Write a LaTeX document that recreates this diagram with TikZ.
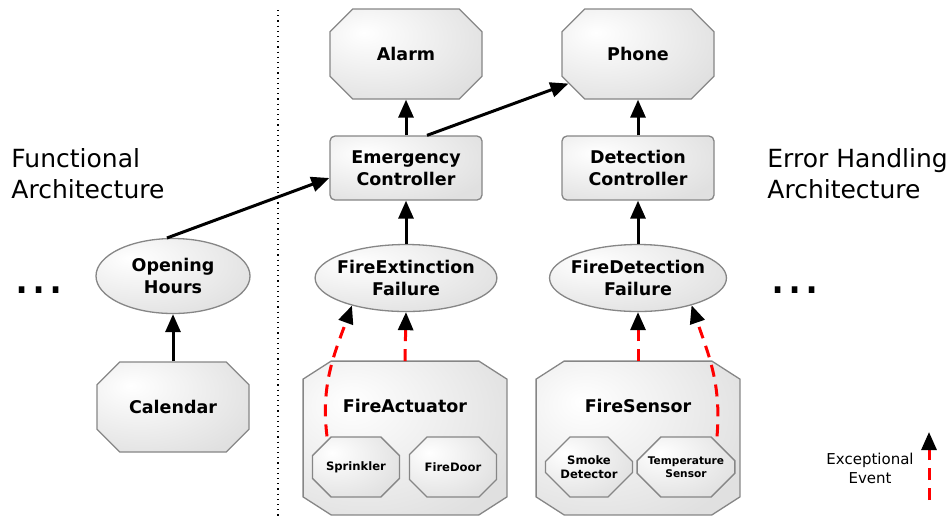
\documentclass[tikz,border=0pt]{standalone}
\usepackage{fontspec}
\setmainfont{DejaVu Sans}
\usetikzlibrary{arrows.meta,calc,shapes.misc,shapes.geometric}
\pgfdeclareradialshading{nodeglow}{\pgfpoint{-14bp}{12bp}}{%
  color(0bp)=(white); color(38bp)=(gray!24); color(100bp)=(gray!30)}
\tikzset{
  boxline/.style = {
    draw=gray!95, line width=0.65pt, shading=nodeglow
  },
  box/.style = {
    boxline, align=center, inner sep=0pt,
    font=\bfseries\fontsize{8.75}{11}\selectfont
  },
  octa/.style = {
    box, chamfered rectangle,
    chamfered rectangle xsep=7.5pt, chamfered rectangle ysep=8pt,
    minimum width=76pt, minimum height=45pt
  },
  small/.style = {
    octa, chamfered rectangle xsep=6.5pt, chamfered rectangle ysep=6.5pt,
    minimum width=43.5pt, minimum height=30pt,
    font=\bfseries\fontsize{5.8}{7}\selectfont
  },
  bigarea/.style = {rectangle, inner sep=0pt, minimum width=101.5pt, minimum height=76.5pt},
  ctrl/.style = {box, rectangle, rounded corners=2.5pt, minimum width=76pt, minimum height=32pt},
  fail/.style = {box, ellipse, inner xsep=-2.3pt, minimum width=77pt, minimum height=33.5pt},
  lbl/.style = {inner sep=0pt, font=\bfseries\fontsize{8.75}{11}\selectfont},
  heading/.style = {inner sep=0pt, align=left, font=\fontsize{12.5}{15.75}\selectfont},
  more/.style = {inner sep=0pt, font=\fontsize{27}{30}\selectfont},
  legend/.style = {inner sep=0pt, align=center, font=\fontsize{7.5}{9.5}\selectfont},
  flow/.style = {-{Triangle[length=9pt,width=7.5pt]}, line width=1.5pt},
  exc/.style = {flow, red, dash pattern=on 6pt off 4pt,
    -{Triangle[length=9pt,width=7.5pt,color=black]}}
}
% octagon round a named area: node, x cut, y cut
\newcommand{\bigoct}[3]{%
  \path[boxline] ([xshift=#2]#1.north west) -- ([xshift=-#2]#1.north east)
    -- ([yshift=-#3]#1.north east) -- ([yshift=#3]#1.south east)
    -- ([xshift=-#2]#1.south east) -- ([xshift=#2]#1.south west)
    -- ([yshift=#3]#1.south west) -- ([yshift=-#3]#1.north west) -- cycle;
}

\begin{document}
\begin{tikzpicture}[x=0.5pt,y=-0.5pt]
  \pgfmathsetmacro{\colA}{173};
  \pgfmathsetmacro{\colB}{406};
  \pgfmathsetmacro{\colC}{638};
  \useasboundingbox (0,0) rectangle (952,516);
  % separator
  \draw[dotted, line width=0.6pt] (278,10) -- (278,516);
  % headings
  \node[heading, anchor=north west] (func) at (11,148) {Functional\\Architecture};
  \node[heading, anchor=north west] (err) at (767,148) {Error Handling\\Architecture};
  \node[more] (moreL) at (39,290) {...};
  \node[more] (moreR) at (795,290) {...};
  % outputs
  \node[octa] (alarm) at (\colB,54) {Alarm};
  \node[octa] (phone) at (\colC,54) {Phone};
  % controllers
  \node[ctrl] (emc) at (\colB,168) {Emergency\\Controller};
  \node[ctrl] (dec) at (\colC,168) {Detection\\Controller};
  % failures
  \node[fail, minimum height=37.5pt] (oh) at (\colA,276) {Opening\\Hours};
  \node[fail] (fex) at (\colB,278) {FireExtinction\\Failure};
  \node[fail] (fdet) at (\colC,278) {FireDetection\\Failure};
  % components
  \node[octa] (cal) at (\colA,407) {Calendar};
  \node[bigarea] (fact) at (405,438) {};
  \node[bigarea] (fsen) at (\colC,438) {};
  \bigoct{fact}{14pt}{9pt}
  \bigoct{fsen}{14pt}{9pt}
  \node[lbl] (factlbl) at (405,406) {FireActuator};
  \node[lbl] (fsenlbl) at (\colC,406) {FireSensor};
  \node[small] (spr) at (356,467) {Sprinkler};
  \node[small] (door) at (453,467) {FireDoor};
  \node[small] (smoke) at (589,467) {Smoke\\Detector};
  \node[small, font=\bfseries\fontsize{5.3}{6.8}\selectfont] (temp) at (686,467) {Temperature\\Sensor};
  % normal flow
  \foreach \a/\b in {cal/oh, emc/alarm, fex/emc, dec/phone, fdet/dec} {%
    \draw[flow] (\a.north) -- (\b.south);
  }
  \draw[flow] (oh.99) -- ($(emc.west)+(0,10)$);
  \draw[flow] ($(emc.north)+(21,0)$) -- (phone.203);
  % exceptional events
  \foreach \a/\b in {fact/fex, fsen/fdet} {%
    \draw[exc] (\a.north) -- (\b.south);
  }
  \draw[exc] ($(spr.north)+(-29,0)$) to[out=97,in=-110] (fex.207);
  \draw[exc] ($(temp.north)+(31,0)$) to[out=85,in=-71] (fdet.333);
  % legend
  \coordinate (legA) at (929,500);
  \coordinate (legB) at (929,432);
  \draw[exc] (legA) -- (legB);
  \node[legend] (leglbl) at (870,468) {Exceptional\\Event};
\end{tikzpicture}
\end{document}
